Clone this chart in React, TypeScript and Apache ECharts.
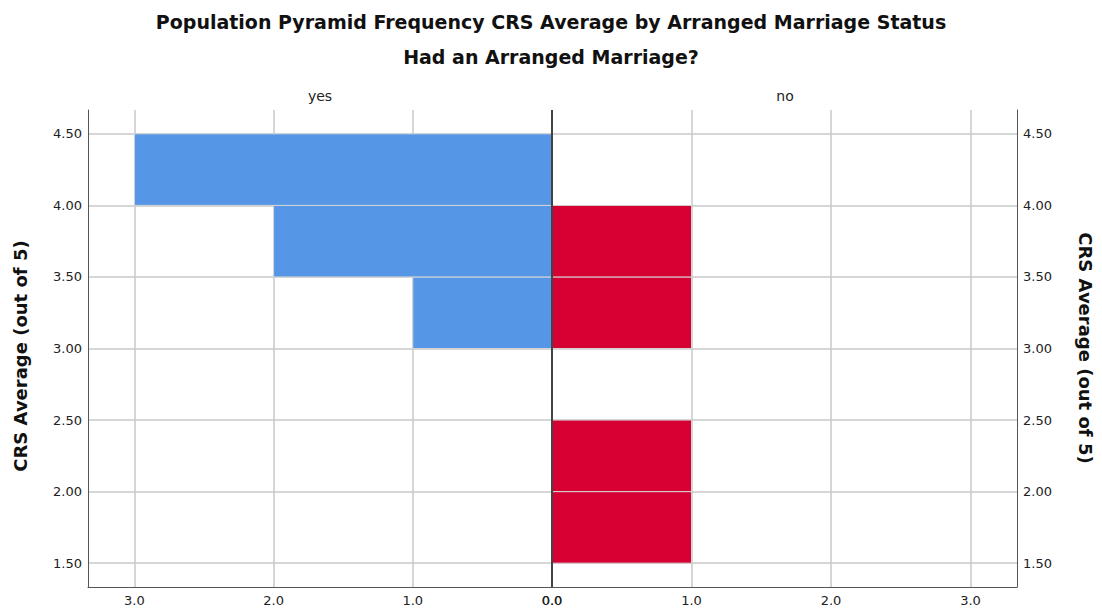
import React, { useEffect, useRef } from "react";
import * as echarts from "echarts";

const mainTitle = "Population Pyramid Frequency CRS Average by Arranged Marriage Status";
const subTitle = "Had an Arranged Marriage?";
const panelNames = ["yes", "no"];
const yAxisName = "CRS Average (out of 5)";

const binStarts = [1.5, 2.0, 2.5, 3.0, 3.5, 4.0];
const binWidth = 0.5;
const yesCounts = [0, 0, 0, 1, 2, 3];
const noCounts = [1, 1, 0, 1, 1, 0];
const yTicks = [1.5, 2.0, 2.5, 3.0, 3.5, 4.0, 4.5];
const xTicks = [0, 1, 2, 3];
const yMin = 1.5 - 1 / 6;
const yMax = 4.5 + 1 / 6;
const xMax = 10 / 3;

const FONT = "DejaVu Sans";
const GRID_COLOR = "#c8c8c8";
const AXIS_COLOR = "#555555";

function binData(counts: number[]) {
  return counts
    .map((c, i) => [c, binStarts[i], binStarts[i] + binWidth])
    .filter((d) => d[0] > 0);
}

function renderBar(params: any, api: any) {
  const count = api.value(0);
  const y0 = api.value(1);
  const y1 = api.value(2);
  const p0 = api.coord([0, y1]);
  const p1 = api.coord([count, y0]);
  return {
    type: "rect",
    shape: {
      x: Math.min(p0[0], p1[0]),
      y: p0[1],
      width: Math.abs(p1[0] - p0[0]),
      height: p1[1] - p0[1],
    },
    style: api.style(),
  };
}

export default function App() {
  const ref = useRef<HTMLDivElement>(null);
  useEffect(() => {
    if (!ref.current) return;
    const chart = echarts.init(ref.current, null, { renderer: "svg" });
    const xAxisCommon = (gridIndex: number, inverse: boolean) => ({
      type: "value",
      gridIndex,
      inverse,
      min: 0,
      max: xMax,
      axisLine: { show: true, lineStyle: { color: AXIS_COLOR, width: 1 } },
      axisTick: { show: false, customValues: xTicks },
      axisLabel: {
        customValues: xTicks,
        formatter: (v: number) => v.toFixed(1),
        color: "#222",
        fontFamily: FONT,
        fontSize: 13,
        margin: 7,
      },
      splitLine: { show: true, lineStyle: { color: GRID_COLOR, width: 1.5 } },
    });
    const yAxisCommon = (gridIndex: number, position: string) => ({
      type: "value",
      gridIndex,
      position,
      min: yMin,
      max: yMax,
      axisLine: { show: true, onZero: false, lineStyle: { color: AXIS_COLOR, width: 1 } },
      axisTick: { show: false, customValues: yTicks },
      axisLabel: {
        customValues: yTicks,
        formatter: (v: number) => v.toFixed(2),
        color: "#222",
        fontFamily: FONT,
        fontSize: 13,
        margin: 6,
      },
      splitLine: { show: true, lineStyle: { color: GRID_COLOR, width: 1.5 } },
    });
    chart.setOption({
      animation: false,
      backgroundColor: "#ffffff",
      grid: [
        { left: 88, top: 110, width: 464, height: 477 },
        { left: 552, top: 110, width: 465, height: 477 },
      ],
      xAxis: [xAxisCommon(0, true), xAxisCommon(1, false)],
      yAxis: [yAxisCommon(0, "left"), yAxisCommon(1, "right")],
      series: [
        {
          type: "custom",
          name: panelNames[0],
          xAxisIndex: 0,
          yAxisIndex: 0,
          renderItem: renderBar,
          encode: { x: 0, y: [1, 2] },
          itemStyle: { color: "#5596e6", borderColor: "#d6d6d6", borderWidth: 1 },
          data: binData(yesCounts),
          z: 3,
        },
        {
          type: "custom",
          name: panelNames[1],
          xAxisIndex: 1,
          yAxisIndex: 1,
          renderItem: renderBar,
          encode: { x: 0, y: [1, 2] },
          itemStyle: { color: "#d60032", borderColor: "#d6d6d6", borderWidth: 1 },
          data: binData(noCounts),
          z: 3,
          markLine: {
            silent: true,
            symbol: "none",
            label: { show: false },
            lineStyle: { color: "#444444", width: 2, type: "solid" },
            data: [{ xAxis: 0 }],
            z: 5,
          },
        },
      ],
      graphic: [
        {
          type: "text",
          x: 551,
          y: 22,
          style: {
            text: mainTitle,
            font: `bold 19px ${FONT}`,
            fill: "#111",
            align: "center",
            verticalAlign: "middle",
          },
        },
        {
          type: "text",
          x: 551,
          y: 57,
          style: {
            text: subTitle,
            font: `bold 19px ${FONT}`,
            fill: "#111",
            align: "center",
            verticalAlign: "middle",
          },
        },
        {
          type: "text",
          x: 320,
          y: 96,
          style: {
            text: panelNames[0],
            font: `14px ${FONT}`,
            fill: "#222",
            align: "center",
            verticalAlign: "middle",
          },
        },
        {
          type: "text",
          x: 785,
          y: 96,
          style: {
            text: panelNames[1],
            font: `14px ${FONT}`,
            fill: "#222",
            align: "center",
            verticalAlign: "middle",
          },
        },
        {
          type: "text",
          x: 20,
          y: 356,
          rotation: Math.PI / 2,
          style: {
            text: yAxisName,
            font: `bold 18px ${FONT}`,
            fill: "#111",
            align: "center",
            verticalAlign: "middle",
          },
        },
        {
          type: "text",
          x: 1085,
          y: 348,
          rotation: -Math.PI / 2,
          style: {
            text: yAxisName,
            font: `bold 18px ${FONT}`,
            fill: "#111",
            align: "center",
            verticalAlign: "middle",
          },
        },
      ],
    });
    return () => chart.dispose();
  }, []);
  return <div ref={ref} style={{ width: 1102, height: 613, margin: -8 }} />;
}
